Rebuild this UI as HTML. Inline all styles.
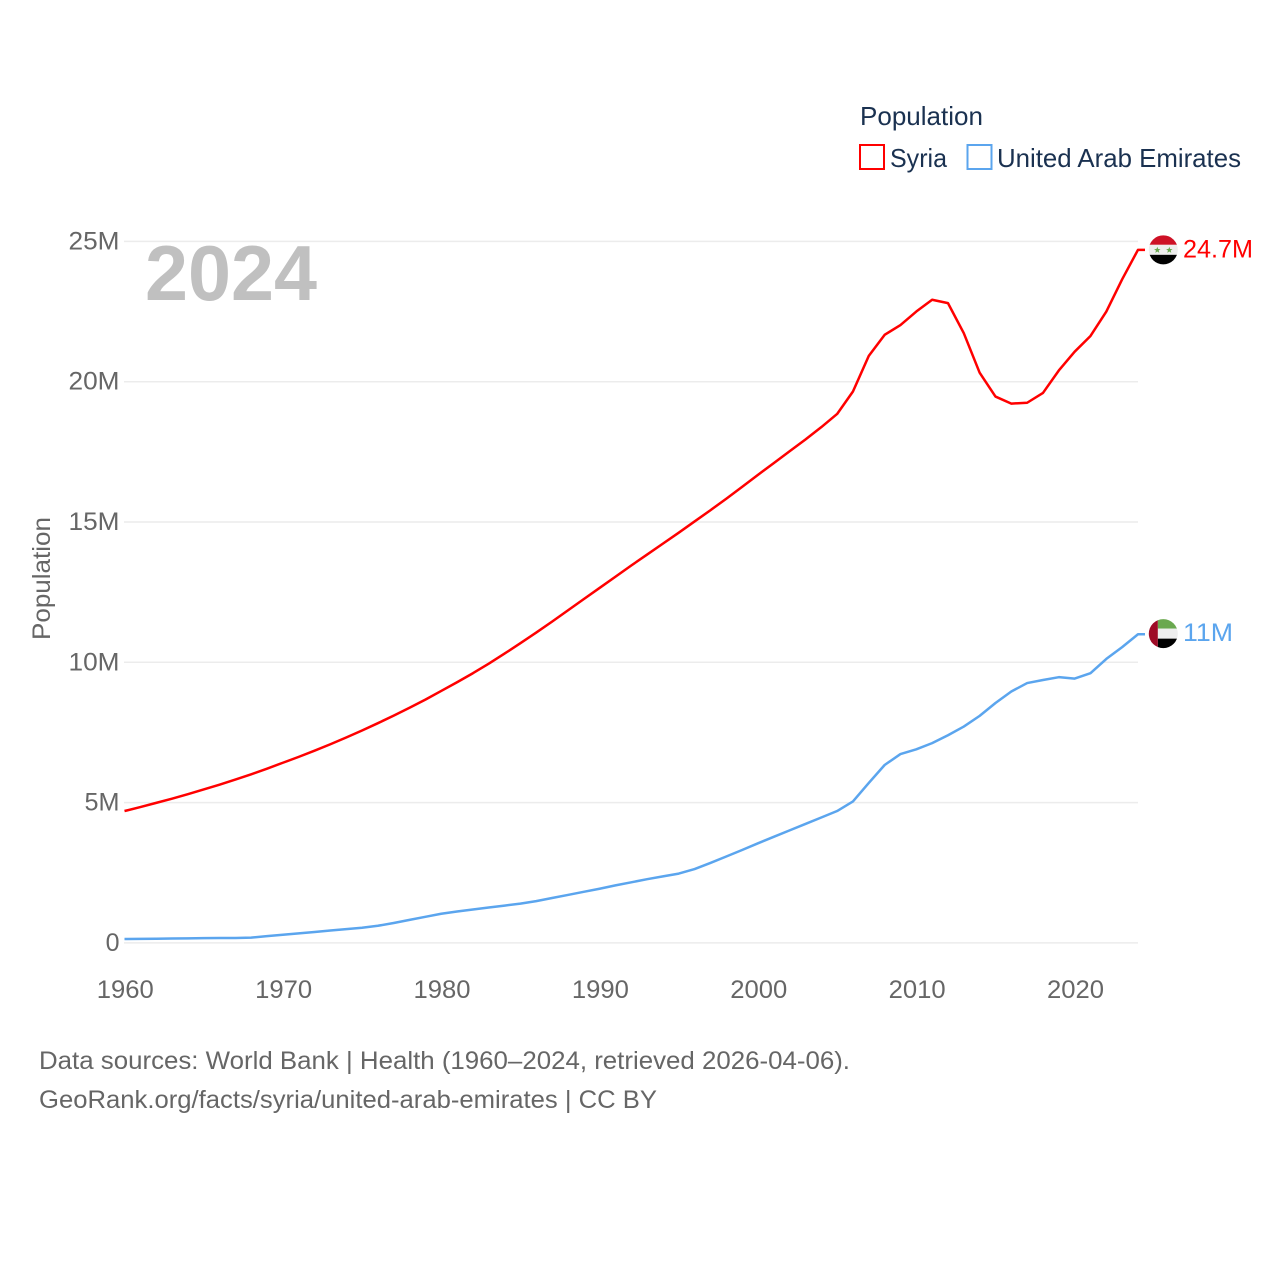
<!DOCTYPE html>
<html lang="en">
<head>
<meta charset="utf-8">
<title>Syria vs United Arab Emirates population</title>
<style>
html,body{margin:0;padding:0;background:#fff;}
svg{display:block;font-family:"Liberation Sans",sans-serif;}
</style>
</head>
<body>
<svg id="chart" width="1280" height="1280" viewBox="0 0 1280 1280" xmlns="http://www.w3.org/2000/svg">
  <defs>
    <clipPath id="flag-clip"><circle cx="0" cy="0" r="14.5"></circle></clipPath>
  </defs>
  <rect x="0" y="0" width="1280" height="1280" fill="#fff"></rect>
  <g id="grid"></g>
  <g id="y-axis"></g>
  <g id="x-axis"></g>
  <text transform="translate(50,640) rotate(-90)" font-size="25" fill="#666" textLength="123" lengthAdjust="spacingAndGlyphs">Population</text>
  <text x="145" y="300" font-size="78" font-weight="bold" fill="#c0c0c0" textLength="172" lengthAdjust="spacingAndGlyphs">2024</text>
  <g id="series"></g>

  <g>
    <text x="860" y="125" font-size="26" fill="#1a3150" textLength="123" lengthAdjust="spacingAndGlyphs">Population</text>
    <g>
      <rect x="860" y="145" width="24" height="24" fill="#fff" stroke="#ff0000" stroke-width="2"></rect>
      <text x="890" y="167" font-size="26" fill="#1a3150" textLength="57" lengthAdjust="spacingAndGlyphs">Syria</text>
    </g>
    <g>
      <rect x="967.5" y="145" width="24" height="24" fill="#fff" stroke="#5ba5ee" stroke-width="2"></rect>
      <text x="997" y="167" font-size="26" fill="#1a3150" textLength="244" lengthAdjust="spacingAndGlyphs">United Arab Emirates</text>
    </g>
  </g>

  <g>
    <text x="39" y="1069" font-size="25" fill="#666" textLength="811" lengthAdjust="spacingAndGlyphs">Data sources: World Bank | Health (1960–2024, retrieved 2026-04-06).</text>
    <text x="39" y="1108" font-size="25" fill="#666" textLength="618" lengthAdjust="spacingAndGlyphs">GeoRank.org/facts/syria/united-arab-emirates | CC BY</text>
  </g>
</svg>
<script>
const years = [1960,1961,1962,1963,1964,1965,1966,1967,1968,1969,1970,1971,1972,1973,1974,1975,1976,1977,1978,1979,1980,1981,1982,1983,1984,1985,1986,1987,1988,1989,1990,1991,1992,1993,1994,1995,1996,1997,1998,1999,2000,2001,2002,2003,2004,2005,2006,2007,2008,2009,2010,2011,2012,2013,2014,2015,2016,2017,2018,2019,2020,2021,2022,2023,2024];
const syriaValues = [4.70,4.84,4.99,5.14,5.30,5.47,5.64,5.82,6.01,6.21,6.42,6.63,6.85,7.08,7.32,7.57,7.83,8.10,8.38,8.67,8.98,9.29,9.61,9.95,10.31,10.68,11.06,11.45,11.85,12.25,12.65,13.05,13.45,13.84,14.23,14.62,15.02,15.42,15.83,16.25,16.68,17.10,17.52,17.94,18.38,18.85,19.65,20.92,21.67,22.02,22.50,22.92,22.80,21.73,20.32,19.47,19.22,19.25,19.60,20.40,21.07,21.63,22.50,23.65,24.70];
const uaeValues = [0.14,0.145,0.15,0.155,0.16,0.17,0.175,0.175,0.19,0.24,0.29,0.34,0.39,0.44,0.49,0.54,0.61,0.71,0.82,0.93,1.04,1.12,1.19,1.26,1.33,1.40,1.49,1.60,1.71,1.82,1.93,2.05,2.16,2.27,2.37,2.47,2.63,2.85,3.08,3.31,3.55,3.78,4.01,4.24,4.47,4.70,5.04,5.70,6.34,6.73,6.90,7.12,7.40,7.71,8.09,8.55,8.96,9.26,9.37,9.47,9.42,9.61,10.12,10.54,11.00];
const yTicks = [0,5,10,15,20,25];
const yTickLabels = ["0","5M","10M","15M","20M","25M"];
const xTicks = [1960,1970,1980,1990,2000,2010,2020];
const xTickLabels = ["1960","1970","1980","1990","2000","2010","2020"];
const syriaEndLabel = "24.7M";
const uaeEndLabel = "11M";

const NS = "http://www.w3.org/2000/svg";
const xScale = function (year) { return 124.5 + (year - 1960) * (1138 - 124.5) / 64; };
const yScale = function (value) { return 942.9 - value * 28.06; };

function make(tag, parent, attrs) {
  const el = document.createElementNS(NS, tag);
  for (const k in attrs) { el.setAttribute(k, attrs[k]); }
  parent.appendChild(el);
  return el;
}

const grid = document.getElementById("grid");
const yAxis = document.getElementById("y-axis");
const xAxis = document.getElementById("x-axis");
const series = document.getElementById("series");

yTicks.forEach(function (v, i) {
  const line = make("line", grid, { x1: 124, x2: 1138, y1: yScale(v), y2: yScale(v), stroke: "#ececec", "stroke-width": 1.5 });
  
  
  const label = make("text", yAxis, { x: 119.5, y: yScale(v) + 8, "font-size": 25, fill: "#666", "text-anchor": "end" });
  
  
  label.textContent = yTickLabels[i];
  if (yTickLabels[i].length > 1) {
    label.setAttribute("textLength", yTickLabels[i].length === 2 ? 35 : 51);
    label.setAttribute("lengthAdjust", "spacingAndGlyphs");
  }
});

xTicks.forEach(function (yr, i) {
  const label = make("text", xAxis, { x: xScale(yr) + 0.8, y: 998, "font-size": 25, fill: "#666", "text-anchor": "middle" });
  
  
  label.textContent = xTickLabels[i];
  label.setAttribute("textLength", 57);
  label.setAttribute("lengthAdjust", "spacingAndGlyphs");
});

function linePath(values) {
  const pts = values.map(function (v, i) { return xScale(years[i]).toFixed(2) + "," + yScale(v).toFixed(2); });
  const last = values[values.length - 1];
  pts.push((xScale(years[years.length - 1]) + 7).toFixed(2) + "," + yScale(last).toFixed(2));
  return "M" + pts.join("L");
}

const syriaLine = make("path", series, { d: linePath(syriaValues), fill: "none", stroke: "#ff0000", "stroke-width": 2.5, "stroke-linejoin": "round" });



const uaeLine = make("path", series, { d: linePath(uaeValues), fill: "none", stroke: "#5ba5ee", "stroke-width": 2.5, "stroke-linejoin": "round" });



function star(parent, cx, cy, r, fill) {
  let pts = [];
  for (let i = 0; i < 10; i++) {
    const a = -Math.PI / 2 + i * Math.PI / 5;
    const rad = i % 2 ? r * 0.42 : r;
    pts.push((cx + rad * Math.cos(a)).toFixed(2) + "," + (cy + rad * Math.sin(a)).toFixed(2));
  }
  return make("polygon", parent, { points: pts.join(" "), fill: fill });
}

const fx = 1163.3;

const syriaFlag = make("g", series, { transform: "translate(" + fx + "," + yScale(syriaValues[syriaValues.length - 1]) + ")", "clip-path": "url(#flag-clip)" });


make("rect", syriaFlag, { x: -15, y: -15, width: 30, height: 10, fill: "#ce1126" });
make("rect", syriaFlag, { x: -15, y: -5, width: 30, height: 10, fill: "#eeeeee" });
make("rect", syriaFlag, { x: -15, y: 5, width: 30, height: 10, fill: "#000000" });
star(syriaFlag, -6, 0.3, 3.4, "#6aa84f");
star(syriaFlag, 6, 0.3, 3.4, "#6aa84f");

const uaeFlag = make("g", series, { transform: "translate(" + fx + "," + (yScale(uaeValues[uaeValues.length - 1]) - 0.6) + ")", "clip-path": "url(#flag-clip)" });


make("rect", uaeFlag, { x: -5.5, y: -15, width: 21, height: 10, fill: "#6aa84f" });
make("rect", uaeFlag, { x: -5.5, y: -5, width: 21, height: 10, fill: "#eeeeee" });
make("rect", uaeFlag, { x: -5.5, y: 5, width: 21, height: 10, fill: "#000000" });
make("rect", uaeFlag, { x: -15, y: -15, width: 9.5, height: 30, fill: "#9e0b26" });

const syriaLabel = make("text", series, { x: 1183, y: yScale(syriaValues[syriaValues.length - 1]) + 7.5, "font-size": 25, fill: "#ff0000", textLength: 70, lengthAdjust: "spacingAndGlyphs" });


syriaLabel.textContent = syriaEndLabel;

const uaeLabel = make("text", series, { x: 1183, y: yScale(uaeValues[uaeValues.length - 1]) + 6.8, "font-size": 25, fill: "#5ba5ee", textLength: 50, lengthAdjust: "spacingAndGlyphs" });


uaeLabel.textContent = uaeEndLabel;
</script>
</body>
</html>
